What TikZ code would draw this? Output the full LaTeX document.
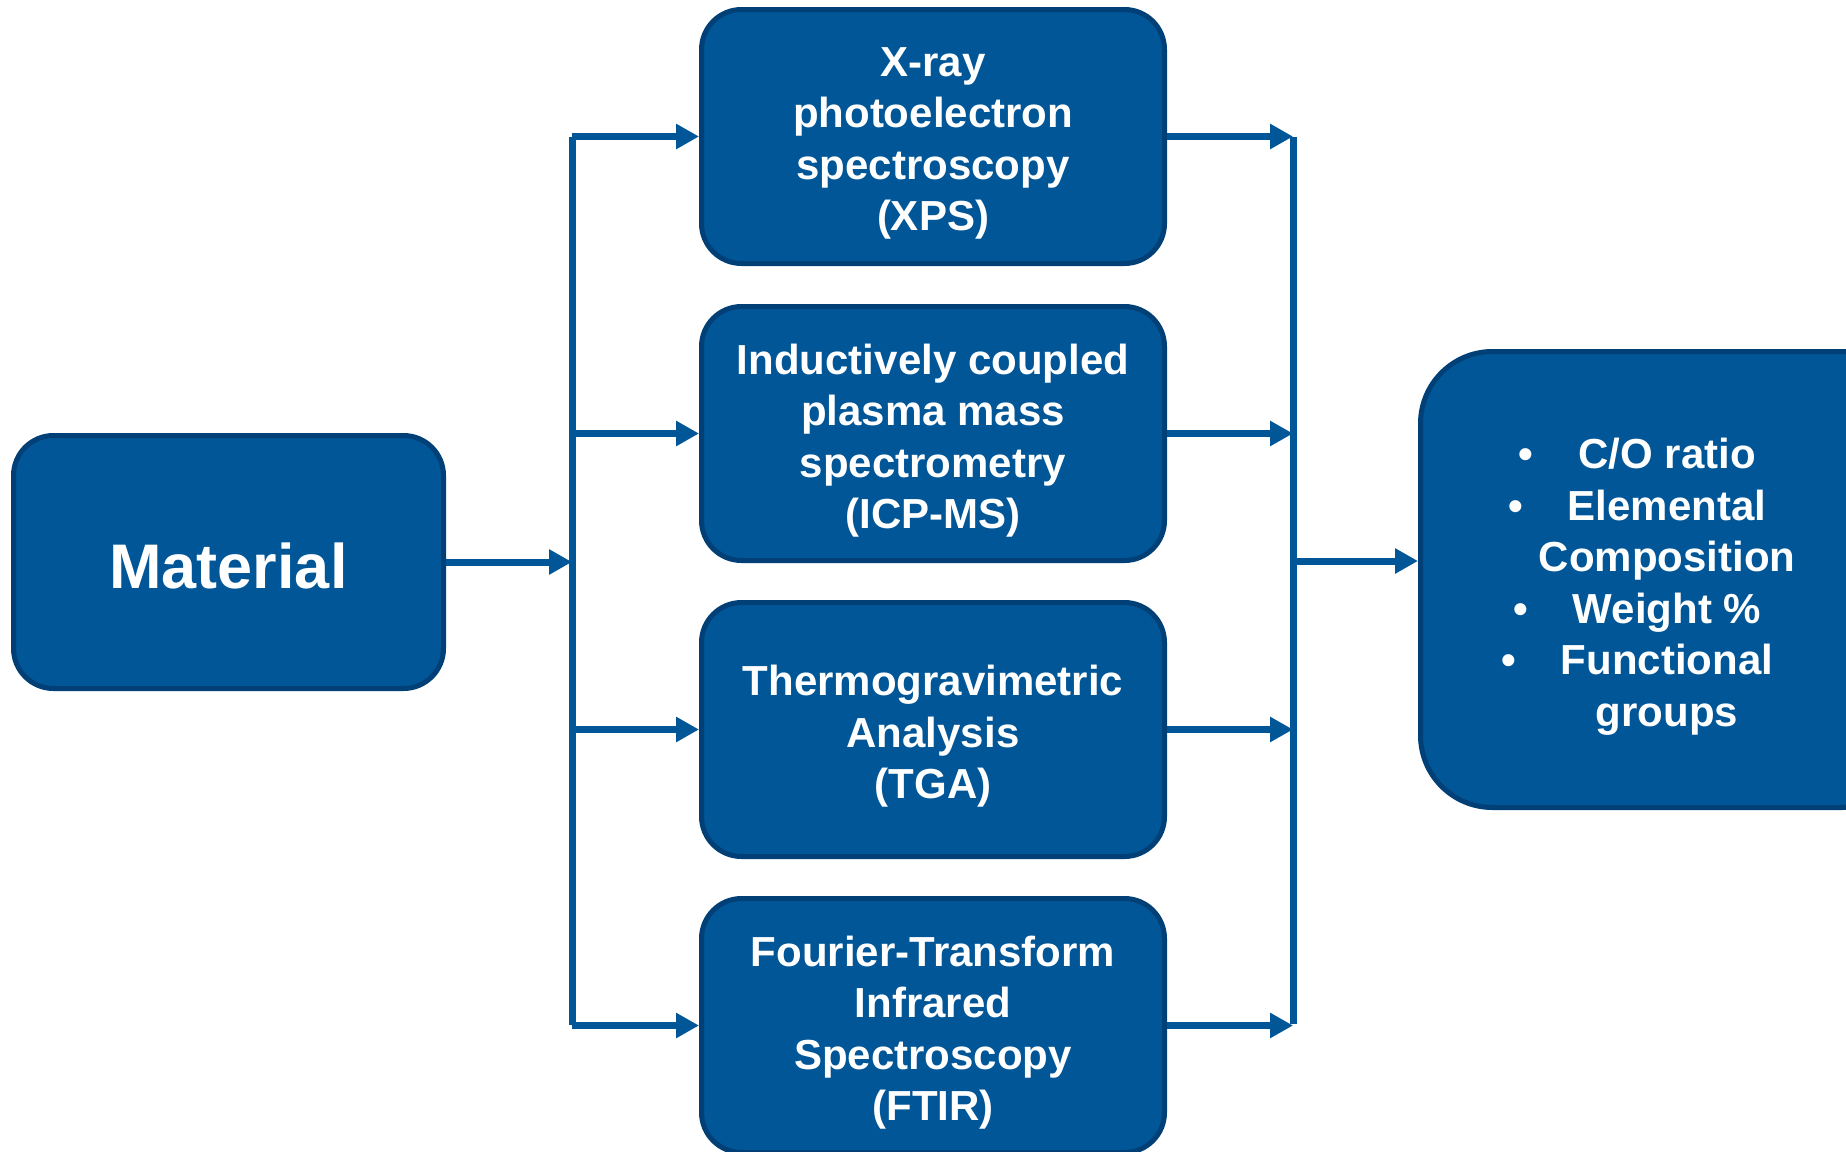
\documentclass[tikz,border=0pt]{standalone}
\usepackage{fontspec}
\setmainfont{Liberation Sans}
\usetikzlibrary{arrows.meta}
\definecolor{boxblue}{RGB}{1,86,151}
\definecolor{edgeblue}{RGB}{0,64,118}

\begin{document}
\begin{tikzpicture}[x=1pt,y=-1pt,
  box/.style={draw=edgeblue, fill=boxblue, line width=5pt, rounded corners=40pt,
    inner sep=0pt},
  method/.style={box, minimum width=463pt, minimum height=254pt},
  txt/.style={inner sep=0pt, text=white, align=center,
    font=\bfseries\fontsize{42}{51.5}\selectfont},
  link/.style={draw=boxblue, line width=7pt},
  arr/.style={link, -{Triangle[length=23pt,width=24pt]}}]
\useasboundingbox (0,0) rectangle (1846,1151);

% input sample
\node[box, minimum width=430pt, minimum height=253pt] (mat) at (228.5,562) {};
\node[txt, font=\bfseries\fontsize{63}{70}\selectfont] (matt)
  at ([yshift=-4pt]mat.center) {Material};

% characterisation techniques
\node[method] (xps)  at (933,136.5) {};
\node[method] (icp)  at (933,433.5) {};
\node[method] (tga)  at (933,729.5) {};
\node[method] (ftir) at (933,1025.5) {};
\node[txt] (xpst)  at ([yshift=-7pt]xps.center)  {X-ray\\photoelectron\\spectroscopy\\(XPS)};
\node[txt] (icpt)  at ([yshift=-7pt]icp.center)  {Inductively coupled\\plasma mass\\spectrometry\\(ICP-MS)};
\node[txt] (tgat)  at ([yshift=-7pt]tga.center)  {Thermogravimetric\\Analysis\\(TGA)};
\node[txt] (ftirt) at ([yshift=-7pt]ftir.center) {Fourier-Transform\\Infrared\\Spectroscopy\\(FTIR)};

% outcomes
\newcommand{\bul}{\llap{\textbullet\hspace{45pt}}}
\node[box, rounded corners=72pt, minimum width=493pt, minimum height=456pt]
  (res) at (1667,579.5) {};
\node[txt] (rest) at ([yshift=-7pt]res.center)
  {\bul C/O ratio\\\bul Elemental\\Composition\\\bul Weight \%\\\bul Functional\\groups};

% distribution bar on the left
\coordinate (ltop) at (572,137);
\coordinate (lbot) at (572,1025);
\draw[link] (ltop) -- (lbot);
\draw[arr] (mat.east) -- (mat.east -| ltop);
\foreach \n in {xps,icp,tga,ftir}
  \draw[arr] (\n.west -| ltop) -- (\n.west);

% collecting bar on the right
\coordinate (rtop) at (1293,137);
\coordinate (rbot) at (1293,1024);
\coordinate (rmid) at (1293,561);
\draw[link] (rtop) -- (rbot);
\foreach \n in {xps,icp,tga,ftir}
  \draw[arr] (\n.east) -- (\n.east -| rtop);
\draw[arr] (rmid) -- (rmid -| res.west);
\end{tikzpicture}
\end{document}
